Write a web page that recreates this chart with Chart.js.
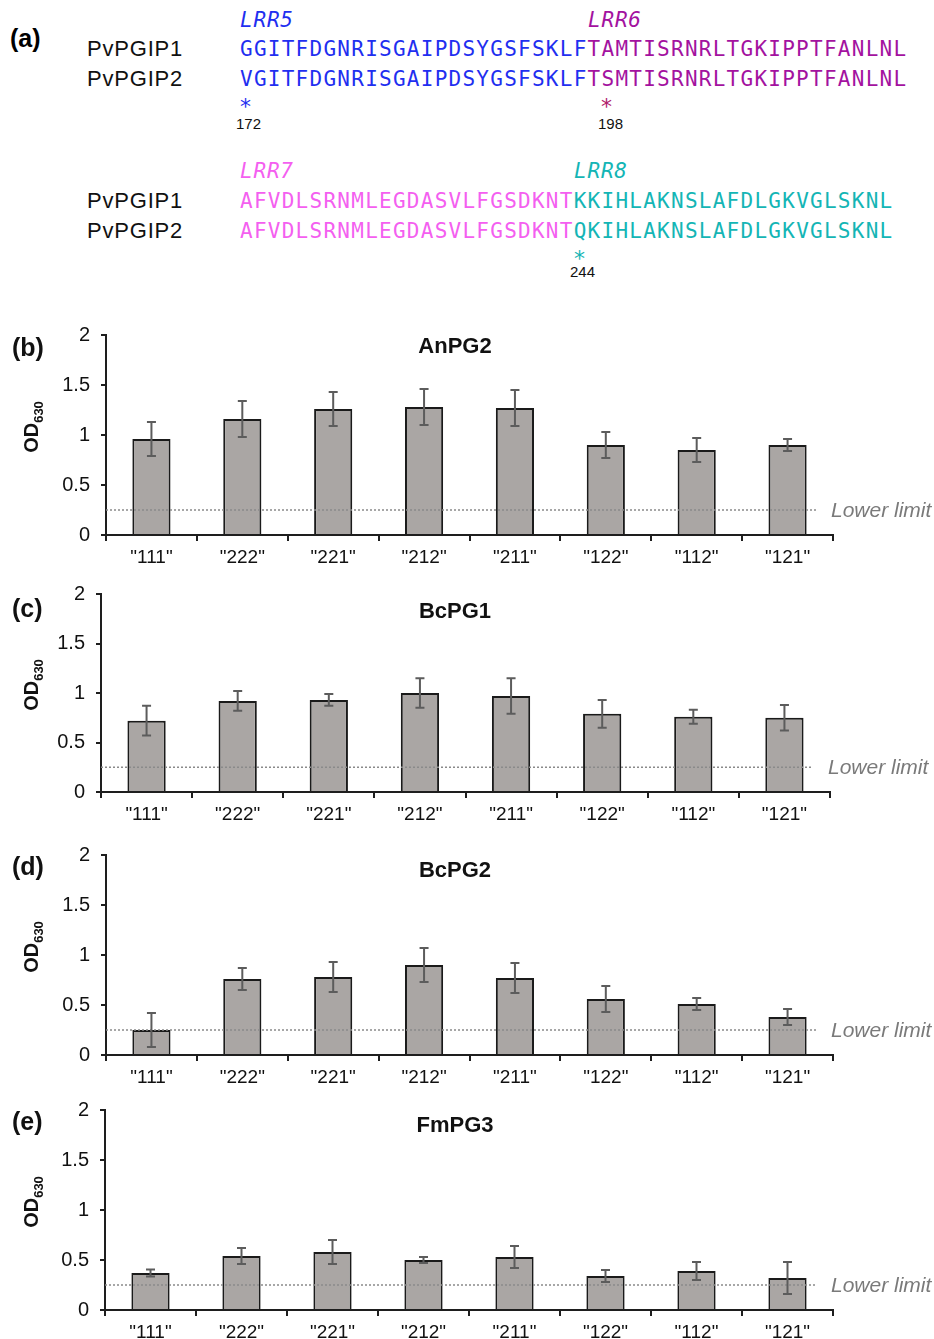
<!DOCTYPE html>
<html>
<head>
<meta charset="utf-8">
<script src="https://cdn.jsdelivr.net/npm/chart.js@4.4.1/dist/chart.umd.min.js"></script>
<style>
  body { margin: 0; background: #fff; }
  #page { position: relative; width: 934px; height: 1339px; overflow: hidden; }
  .t { position: absolute; white-space: pre; line-height: 24px; }
  .name { font-family: "Liberation Sans", Arial, sans-serif; font-size: 22px; letter-spacing: 0.8px; color: #111; }
  .seq { font-family: "DejaVu Sans Mono", monospace; font-size: 21px; letter-spacing: 1.26px; }
  .lrr { font-family: "DejaVu Sans Mono", monospace; font-size: 21px; letter-spacing: 0.8px; font-style: italic; }
  .star { font-family: "DejaVu Sans", sans-serif; font-size: 22px; }
  .num { font-family: "Liberation Sans", Arial, sans-serif; font-size: 15px; color: #111; }
  .blue { color: #1f2ff0; }
  .purple { color: #a3129f; }
  .pink { color: #f45ff0; }
  .cyan { color: #14b5b5; }
  canvas { position: absolute; left: 0; }
</style>
</head>
<body>
<div id="page">
  <!-- panel (a): sequence alignment -->
  <div class="t" style="left:10px;top:24px;font:bold 25px 'Liberation Sans',Arial,sans-serif;">(a)</div>

  <div class="t lrr blue" style="left:240px;top:8px;">LRR5</div>
  <div class="t lrr purple" style="left:588px;top:8px;">LRR6</div>
  <div class="t name" style="left:87px;top:37px;">PvPGIP1</div>
  <div class="t seq" style="left:240px;top:37px;"><span class="blue">GGITFDGNRISGAIPDSYGSFSKLF</span><span class="purple">TAMTISRNRLTGKIPPTFANLNL</span></div>
  <div class="t name" style="left:87px;top:67px;">PvPGIP2</div>
  <div class="t seq" style="left:240px;top:67px;"><span class="blue">VGITFDGNRISGAIPDSYGSFSKLF</span><span class="purple">TSMTISRNRLTGKIPPTFANLNL</span></div>
  <div class="t star blue" style="left:240px;top:95px;">*</div>
  <div class="t star" style="left:601px;top:95px;color:#b0206a;">*</div>
  <div class="t num" style="left:236px;top:112px;">172</div>
  <div class="t num" style="left:598px;top:112px;">198</div>

  <div class="t lrr pink" style="left:240px;top:159px;">LRR7</div>
  <div class="t lrr cyan" style="left:574px;top:159px;">LRR8</div>
  <div class="t name" style="left:87px;top:189px;">PvPGIP1</div>
  <div class="t seq" style="left:240px;top:189px;"><span class="pink">AFVDLSRNMLEGDASVLFGSDKNT</span><span class="cyan">KKIHLAKNSLAFDLGKVGLSKNL</span></div>
  <div class="t name" style="left:87px;top:219px;">PvPGIP2</div>
  <div class="t seq" style="left:240px;top:219px;"><span class="pink">AFVDLSRNMLEGDASVLFGSDKNT</span><span class="cyan">QKIHLAKNSLAFDLGKVGLSKNL</span></div>
  <div class="t star cyan" style="left:574px;top:247px;">*</div>
  <div class="t num" style="left:570px;top:260px;">244</div>

  <canvas id="chartB"></canvas>
  <canvas id="chartC"></canvas>
  <canvas id="chartD"></canvas>
  <canvas id="chartE"></canvas>
</div>

<script>
// Data
const groups = ['"111"', '"222"', '"221"', '"212"', '"211"', '"122"', '"112"', '"121"'];
const yTicks = [0, 0.5, 1, 1.5, 2];
const lowerLimit = 0.25;

const anpg2 = [0.96, 1.16, 1.26, 1.28, 1.27, 0.90, 0.85, 0.90];
const anpg2Err = [0.17, 0.18, 0.17, 0.18, 0.18, 0.13, 0.12, 0.06];

const bcpg1 = [0.72, 0.92, 0.93, 1.00, 0.97, 0.79, 0.76, 0.75];
const bcpg1Err = [0.15, 0.10, 0.06, 0.15, 0.18, 0.14, 0.07, 0.13];

const bcpg2 = [0.25, 0.76, 0.78, 0.90, 0.77, 0.56, 0.51, 0.38];
const bcpg2Err = [0.17, 0.11, 0.15, 0.17, 0.15, 0.13, 0.06, 0.08];

const fmpg3 = [0.37, 0.54, 0.58, 0.50, 0.53, 0.34, 0.39, 0.32];
const fmpg3Err = [0.035, 0.08, 0.12, 0.03, 0.11, 0.06, 0.09, 0.16];

// Panel layout (page pixels)
const panels = [
    { canvas: 'chartB', letter: '(b)', name: 'AnPG2', values: anpg2, errors: anpg2Err, axisTop: 335, plotH: 200, left: 106, right: 833, letterDy: 14, titleDy: 12 },
    { canvas: 'chartC', letter: '(c)', name: 'BcPG1', values: bcpg1, errors: bcpg1Err, axisTop: 594, plotH: 198, left: 101, right: 830, letterDy: 16, titleDy: 18 },
    { canvas: 'chartD', letter: '(d)', name: 'BcPG2', values: bcpg2, errors: bcpg2Err, axisTop: 855, plotH: 200, left: 106, right: 833, letterDy: 13, titleDy: 16 },
    { canvas: 'chartE', letter: '(e)', name: 'FmPG3', values: fmpg3, errors: fmpg3Err, axisTop: 1110, plotH: 200, left: 105, right: 833, letterDy: 13, titleDy: 16 }
];

const PAD_TOP = 30;
const X_AXIS_H = 36;
const AXIS_COLOR = '#1e1e1e';

// Error bars, lower limit line and panel texts
const decorations = {
    id: 'decorations',
    afterDatasetsDraw(chart, args, opts) {
        const ctx = chart.ctx;
        const x = chart.scales.x;
        const y = chart.scales.y;
        const area = chart.chartArea;

        // dotted lower limit line
        const yl = y.getPixelForValue(lowerLimit);
        ctx.save();
        ctx.strokeStyle = '#8a8a8a';
        ctx.lineWidth = 1.5;
        ctx.setLineDash([2, 2]);
        ctx.beginPath();
        ctx.moveTo(area.left, yl);
        ctx.lineTo(area.right - 17, yl);
        ctx.stroke();
        ctx.restore();

        // error bars
        ctx.save();
        ctx.strokeStyle = '#5c5c5c';
        ctx.lineWidth = 2;
        opts.values.forEach((v, i) => {
            const cx = x.getPixelForValue(i);
            const top = y.getPixelForValue(v + opts.errors[i]);
            const bot = y.getPixelForValue(v - opts.errors[i]);
            ctx.beginPath();
            ctx.moveTo(cx, top);
            ctx.lineTo(cx, bot);
            ctx.moveTo(cx - 4.5, top);
            ctx.lineTo(cx + 4.5, top);
            ctx.moveTo(cx - 4.5, bot);
            ctx.lineTo(cx + 4.5, bot);
            ctx.stroke();
        });
        ctx.restore();
    },
    afterDraw(chart, args, opts) {
        const ctx = chart.ctx;
        const y = chart.scales.y;
        const area = chart.chartArea;
        ctx.save();
        ctx.fillStyle = '#111';

        // panel letter
        ctx.font = 'bold 25px "Liberation Sans", Arial, sans-serif';
        ctx.textAlign = 'left';
        ctx.textBaseline = 'middle';
        ctx.fillText(opts.letter, 12, area.top + opts.letterDy);

        // title
        ctx.font = 'bold 22px "Liberation Sans", Arial, sans-serif';
        ctx.textAlign = 'center';
        ctx.fillText(opts.name, 455, area.top + opts.titleDy);

        // "Lower limit" label
        ctx.font = 'italic 21px "Liberation Sans", Arial, sans-serif';
        ctx.fillStyle = '#7a7a7a';
        ctx.textAlign = 'left';
        ctx.fillText('Lower limit', area.right - 2, y.getPixelForValue(lowerLimit) + 1);

        // y title OD630 (rotated, with subscript)
        ctx.fillStyle = '#111';
        ctx.translate(32, (area.top + area.bottom) / 2 - 8);
        ctx.rotate(-Math.PI / 2);
        ctx.font = 'bold 20px "Liberation Sans", Arial, sans-serif';
        const w1 = ctx.measureText('OD').width;
        ctx.font = 'bold 13px "Liberation Sans", Arial, sans-serif';
        const w2 = ctx.measureText('630').width;
        const start = -(w1 + w2) / 2;
        ctx.textAlign = 'left';
        ctx.font = 'bold 20px "Liberation Sans", Arial, sans-serif';
        ctx.fillText('OD', start, 0);
        ctx.font = 'bold 13px "Liberation Sans", Arial, sans-serif';
        ctx.fillText('630', start + w1, 7);
        ctx.restore();
    }
};

function makeChart(p) {
    const canvas = document.getElementById(p.canvas);
    const h = PAD_TOP + p.plotH + X_AXIS_H;
    canvas.width = 934;
    canvas.height = h;
    canvas.style.width = '934px';
    canvas.style.height = h + 'px';
    canvas.style.top = (p.axisTop - PAD_TOP) + 'px';

    return new Chart(canvas.getContext('2d'), {
        type: 'bar',
        data: {
            labels: groups,
            datasets: [{
                data: p.values,
                backgroundColor: '#aaa6a4',
                borderColor: '#1a1a1a',
                borderWidth: 2,
                borderSkipped: 'bottom',
                categoryPercentage: 1,
                barPercentage: 0.42
            }]
        },
        options: {
            responsive: false,
            animation: false,
            events: [],
            layout: {
                padding: { top: PAD_TOP, right: 934 - p.right, bottom: 0, left: 0 }
            },
            plugins: {
                legend: { display: false },
                tooltip: { enabled: false },
                decorations: { values: p.values, errors: p.errors, letter: p.letter, name: p.name, letterDy: p.letterDy, titleDy: p.titleDy }
            },
            scales: {
                x: {
                    afterFit: s => { s.height = X_AXIS_H; },
                    border: { color: AXIS_COLOR, width: 2 },
                    grid: { display: true, drawOnChartArea: false, offset: true, tickLength: 6, color: AXIS_COLOR, lineWidth: 2 },
                    ticks: {
                        color: '#111',
                        padding: 5,
                        font: { family: '"Liberation Sans", Arial, sans-serif', size: 19 }
                    }
                },
                y: {
                    min: yTicks[0],
                    max: yTicks[yTicks.length - 1],
                    afterFit: s => { s.width = p.left; },
                    afterBuildTicks: s => { s.ticks = yTicks.map(v => ({ value: v })); },
                    border: { color: AXIS_COLOR, width: 2 },
                    grid: { display: true, drawOnChartArea: false, tickLength: 5, color: AXIS_COLOR, lineWidth: 2 },
                    ticks: {
                        color: '#111',
                        padding: 11,
                        callback: v => String(v),
                        font: { family: '"Liberation Sans", Arial, sans-serif', size: 20 }
                    }
                }
            }
        },
        plugins: [decorations]
    });
}

panels.forEach(makeChart);
</script>
</body>
</html>
